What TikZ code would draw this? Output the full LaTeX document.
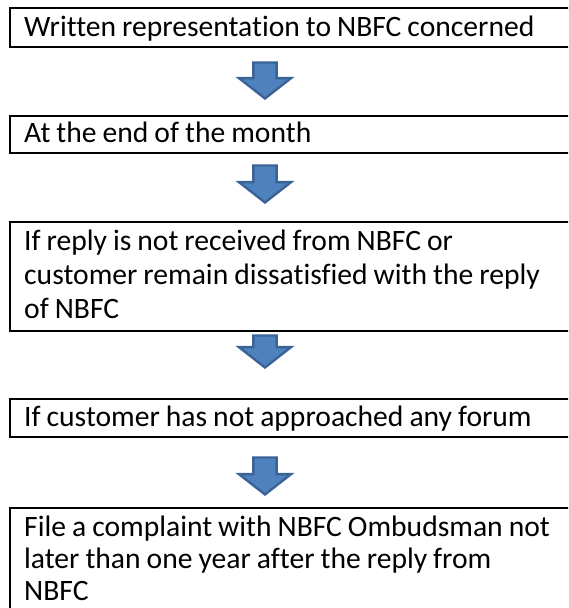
\documentclass[tikz,border=0pt]{standalone}
\usepackage{fontspec}
\setmainfont{Carlito}[Ligatures=NoCommon]
\usetikzlibrary{shapes.arrows}
\definecolor{arrowfill}{HTML}{4F81BD}
\definecolor{arrowedge}{HTML}{3A6398}
\begin{document}
\begin{tikzpicture}[x=1pt,y=-1pt,
  stepbox/.style={draw=black, line width=1.8pt, anchor=north west,
    minimum width=600pt, inner sep=0pt},
  steptext/.style={anchor=base west, inner sep=0pt, text width=600pt,
    align=left, font=\fontsize{29.6}{34}\selectfont,
    execute at begin node={\spaceskip 6pt plus 1pt minus 1pt\relax}},
  blockarrow/.style={single arrow, draw=arrowedge, fill=arrowfill,
    line width=2.4pt, rotate=-90, anchor=tip, inner xsep=0pt, inner ysep=10pt,
    minimum width=52pt, single arrow head extend=14pt,
    single arrow tip angle=104, single arrow head indent=0pt}]
\useasboundingbox (0,0) rectangle (568,608);
\clip (0,0) rectangle (568,608);
% boxes
\node[stepbox, minimum height=39pt] (b1) at (9,7) {};
\node[stepbox, minimum height=37pt] (b2) at (9,115) {};
\node[stepbox, minimum height=109pt] (b3) at (9,221) {};
\node[stepbox, minimum height=38pt] (b4) at (9,398) {};
\node[stepbox, minimum height=140pt] (b5) at (9,507) {};
% texts
\node[steptext] (t1) at (24,36) {Written representation to NBFC concerned};
\node[steptext] (t2) at (24,142) {At the end of the month};
\node[steptext] (t3) at (24,250) {If reply is not received from NBFC or\\customer remain dissatisfied with the reply\\of NBFC};
\node[steptext] (t4) at (24,426) {If customer has not approached any forum};
\node[steptext, font=\fontsize{29.6}{32}\selectfont] (t5) at (24,536) {File a complaint with NBFC Ombudsman not\\later than one year after the reply from\\NBFC};
% arrows
\node[blockarrow, minimum height=36pt] (a1) at (265,100) {};
\node[blockarrow, minimum height=37pt] (a2) at (265,204) {};
\node[blockarrow, minimum height=32pt] (a3) at (265,369) {};
\node[blockarrow, minimum height=37pt] (a4) at (265,496) {};
\end{tikzpicture}
\end{document}
